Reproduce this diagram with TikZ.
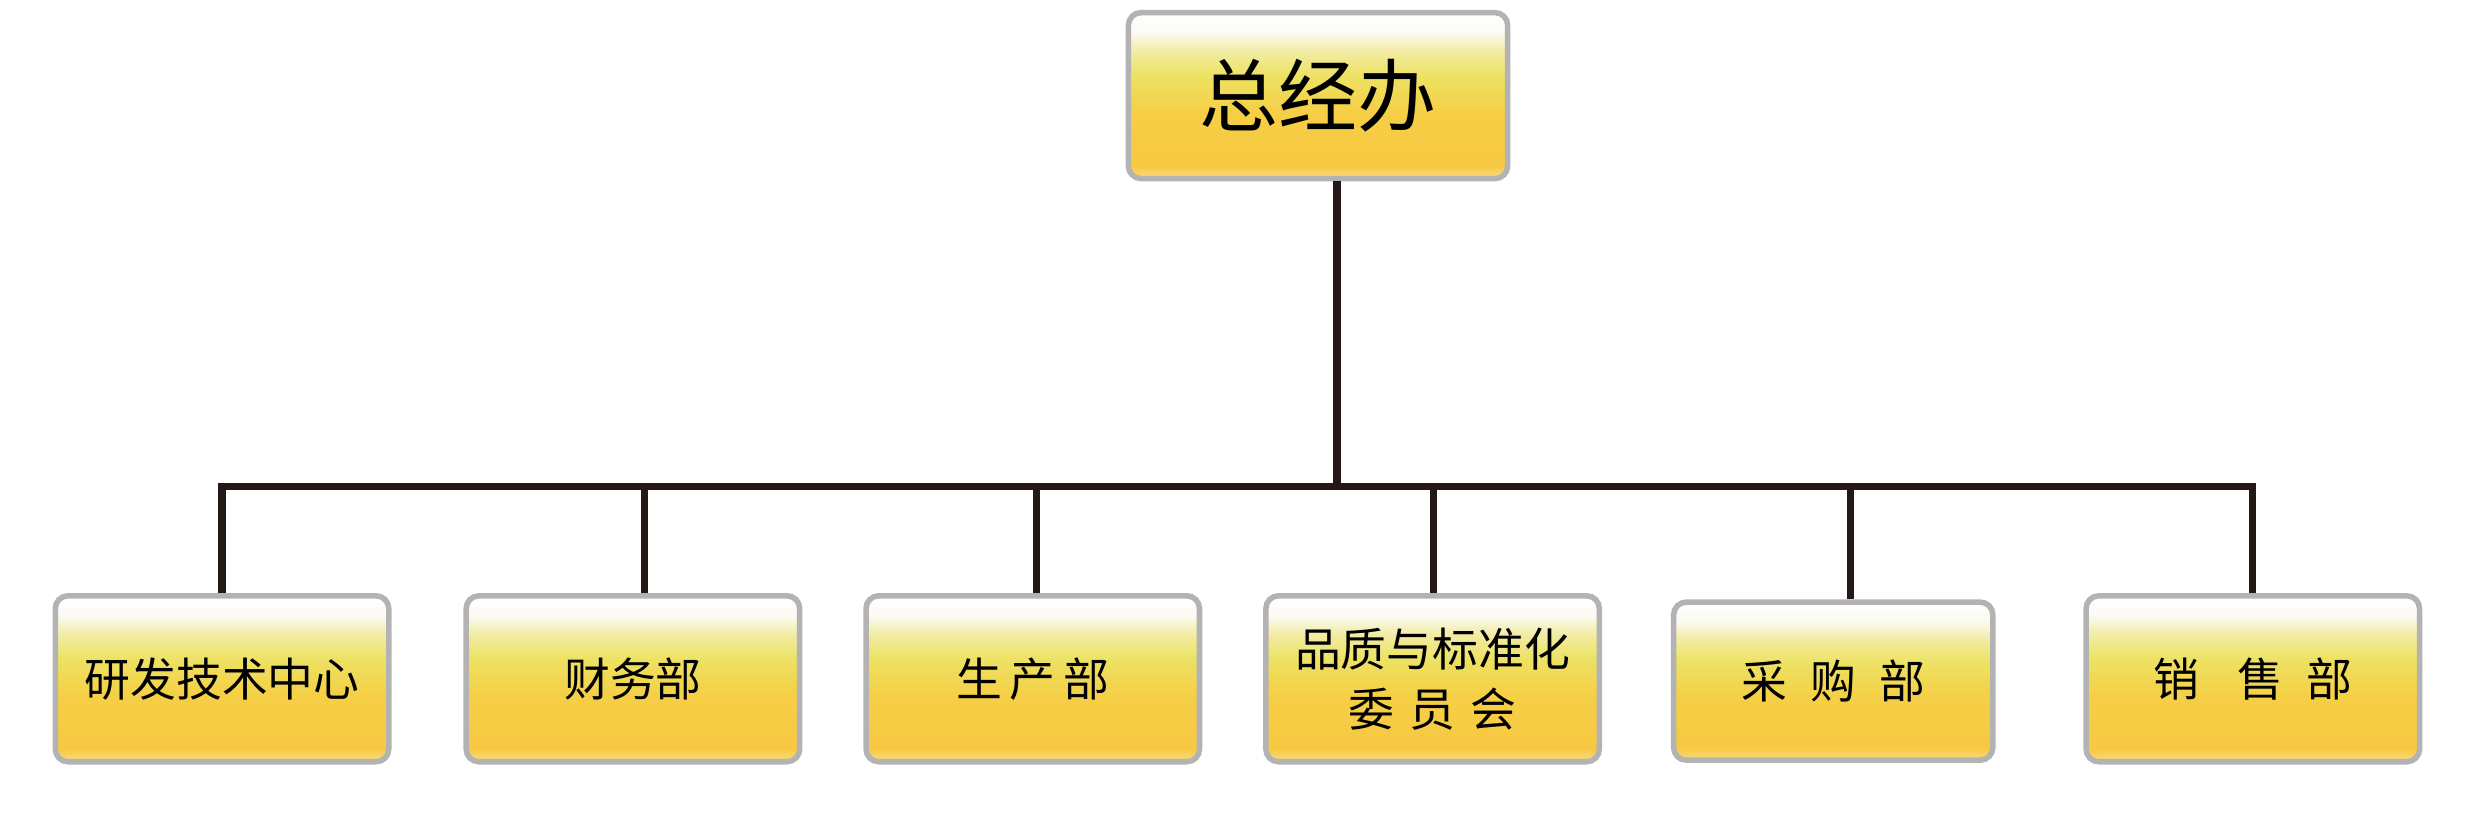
\documentclass[tikz,border=0pt]{standalone}
\usepackage{fontspec}
\setmainfont{Noto Sans CJK SC}
\definecolor{ln}{HTML}{231815}
\definecolor{bd}{HTML}{B3B3B3}
\definecolor{ca}{HTML}{F9DB80}
\definecolor{cb}{HTML}{F8C842}
\definecolor{cc}{HTML}{F5CF45}
\definecolor{cd}{HTML}{EDE263}
\definecolor{ce}{HTML}{F2EBA0}
\definecolor{cf}{HTML}{FBFAF2}
\pgfdeclareverticalshading{boxsh}{100bp}{color(0bp)=(ca); color(25bp)=(ca); color(29bp)=(cb); color(45bp)=(cc); color(56bp)=(cd); color(63bp)=(ce); color(69bp)=(cf); color(75bp)=(white); color(100bp)=(white)}
\begin{document}
\begin{tikzpicture}[x=1pt,y=-1pt,
  boxst/.style={draw=bd,line width=3.5pt,rounded corners=8pt,shading=boxsh,inner sep=0pt,align=center},
  conn/.style={draw=ln,line width=4.5pt},
  lab/.style={font=\fontsize{29}{38}\selectfont}]
\useasboundingbox (0,0) rectangle (1568,531);
\node[boxst,minimum width=240pt,minimum height=105pt,font=\fontsize{50}{56}\selectfont] (top) at (834,60.5) {总经办};
\node[boxst,lab,minimum width=211pt,minimum height=105pt] (b1) at (140.5,429.5) {研发技术中心};
\node[boxst,lab,minimum width=211pt,minimum height=105pt] (b2) at (400.5,429.5) {财务部};
\node[boxst,lab,minimum width=211pt,minimum height=105pt] (b3) at (653.5,429.5) {生\,产\,部};
\node[boxst,lab,minimum width=211pt,minimum height=105pt] (b4) at (906.5,429.5) {品质与标准化\\委\,\,员\,\,会};
\node[boxst,lab,minimum width=202pt,minimum height=100pt] (b5) at (1160,431) {采\,\,\,购\,\,\,部};
\node[boxst,lab,minimum width=211pt,minimum height=105pt] (b6) at (1425.5,429.5) {销\,\,\,\,\,售\,\,\,部};
\coordinate (h) at (846,308);
\draw[conn] (top.south -| h) -- (h);
\draw[conn] (b1.north) -- (b1.north |- h) -- (b6.north |- h) -- (b6.north);
\foreach \x/\b in {408/b2,656/b3,907/b4,1171/b5} \draw[conn] (\x,308) -- (\x,0 |- \b.north);
\end{tikzpicture}
\end{document}
